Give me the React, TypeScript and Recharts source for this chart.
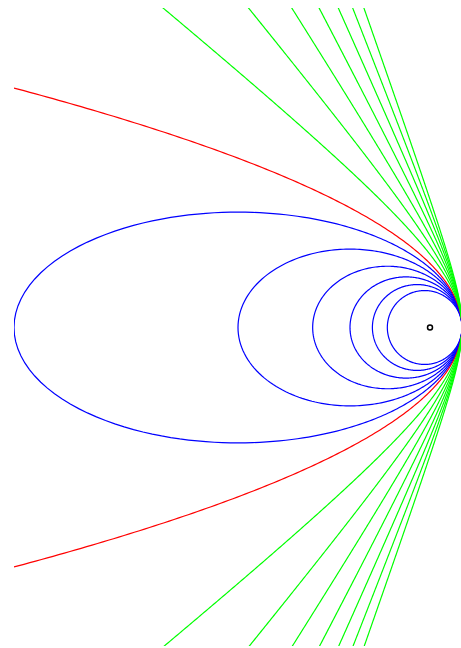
import { ComposedChart, Line, XAxis, YAxis, ReferenceDot } from 'recharts';

// all conics share one focus (origin) and one vertex, distance to vertex = 1
const periapsis = 1;
const ellipseEccentricities = [1 / 7, 2 / 7, 3 / 7, 4 / 7, 5 / 7, 6 / 7];
const parabolaEccentricities = [1];
const hyperbolaEccentricities = [9 / 7, 11 / 7, 13 / 7, 15 / 7, 17 / 7, 19 / 7, 21 / 7];
const focusPoint = { x: 0, y: 0 };

// visible window in the same units (1 unit = distance focus -> vertex)
const xDomain = [-416 / 32, 31 / 32];
const yDomain = [-318.5 / 32, 319.5 / 32];

// closed curve: r = p / (1 + e cos t)
function ellipsePoints(e: number) {
  const p = periapsis * (1 + e);
  const pts = [];
  for (let i = 0; i <= 360; i++) {
    const t = (i / 360) * Math.PI * 2;
    const r = p / (1 + e * Math.cos(t));
    pts.push({ x: r * Math.cos(t), y: r * Math.sin(t) });
  }
  return pts;
}

// open curve, solved for x along y (branch through the vertex)
function openPoints(e: number) {
  const p = periapsis * (1 + e);
  const pts = [];
  for (let i = -220; i <= 220; i++) {
    const y = i * 0.05;
    let x;
    if (e === 1) {
      x = (p * p - y * y) / (2 * p);
    } else {
      const k = 1 - e * e;
      x = (-p * e + Math.sqrt(p * p * e * e - k * (y * y - p * p))) / k;
    }
    pts.push({ x, y });
  }
  return pts;
}

export default function App() {
  return (
    <div style={{ position: 'absolute', left: 0, top: 0, width: 461, height: 648, background: '#fff' }}>
      <ComposedChart width={461} height={648} margin={{ top: 8, right: 0, bottom: 2, left: 14 }}>
        <XAxis type="number" dataKey="x" domain={xDomain} allowDataOverflow hide />
        <YAxis type="number" dataKey="y" domain={yDomain} allowDataOverflow hide />
        {ellipseEccentricities.map((e, i) => (
          <Line
            key={`ell-${i}`}
            data={ellipsePoints(e)}
            dataKey="y"
            stroke="#0000ff"
            strokeWidth={1.2}
            dot={false}
            activeDot={false}
            isAnimationActive={false}
          />
        ))}
        {parabolaEccentricities.map((e, i) => (
          <Line
            key={`par-${i}`}
            data={openPoints(e)}
            dataKey="y"
            stroke="#ff0000"
            strokeWidth={1.2}
            dot={false}
            activeDot={false}
            isAnimationActive={false}
          />
        ))}
        {hyperbolaEccentricities.map((e, i) => (
          <Line
            key={`hyp-${i}`}
            data={openPoints(e)}
            dataKey="y"
            stroke="#00ff00"
            strokeWidth={1.2}
            dot={false}
            activeDot={false}
            isAnimationActive={false}
          />
        ))}
        <ReferenceDot x={focusPoint.x} y={focusPoint.y} r={2.5} fill="#fff" stroke="#000" strokeWidth={1.5} />
      </ComposedChart>
    </div>
  );
}
